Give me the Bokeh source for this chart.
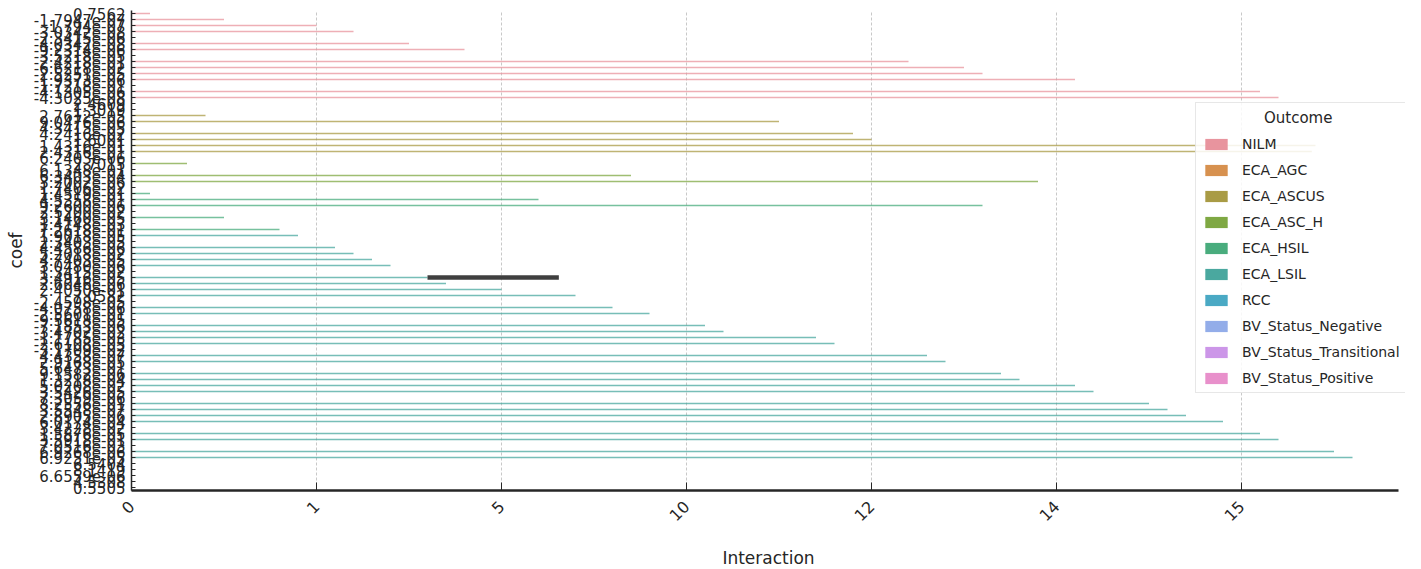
import math
from bokeh.plotting import figure
from bokeh.models import FactorRange, Range1d, FixedTicker, Legend, LegendItem, ColumnDataSource
from bokeh.embed import file_html
from bokeh.resources import INLINE

# ---------------- data ----------------
interaction_levels = ["0", "1", "5", "10", "12", "14", "15"]

outcomes = ["NILM", "ECA_AGC", "ECA_ASCUS", "ECA_ASC_H", "ECA_HSIL", "ECA_LSIL",
            "RCC", "BV_Status_Negative", "BV_Status_Transitional", "BV_Status_Positive"]
outcome_colors = ["#e8949e", "#d7914f", "#a99b45", "#7fa843", "#49ac7d", "#4aa89f",
                  "#4aa9c4", "#93ade9", "#cc96e8", "#e890cb"]

coef_labels = [
    "0.7562", "-1.7947e-07", "-1.794e-07", "-3.0342e-08", "-2.3415e-06",
    "-4.0342e-08", "-9.2314e-06", "-3.5218e-05", "-2.4218e-01", "-6.6218e-02",
    "-2.5251e-05", "-1.9373e-06", "-1.7218e-01", "-4.1305e-06", "-4.3025e-08",
    "2.4609", "1.3019", "2.7612e-05", "9.0476e-06", "4.3415e-05",
    "4.2416e-02", "1.6001", "1.4316e-01", "2.4316e-01", "6.2403e-06",
    "2.7015", "6.1348e-01", "6.3403e-04", "3.2002e-06", "1.7406e-02",
    "1.4519e-01", "4.5358e-01", "9.2600e-06", "2.5200e-02", "3.1460e-05",
    "1.4148e-03", "7.2618e-01", "1.9018e-05", "2.3403e-05", "4.4586e-06",
    "5.2018e-02", "4.7403e-05", "3.0480e-06", "1.3415e-02", "3.4916e-05",
    "2.6046e-06", "2.4050e-01", "7.0582", "-2.4598e-05", "-4.0758e-06",
    "-2.5601e-01", "-9.5618e-05", "-7.1853e-06", "-3.4702e-02", "-1.1785e-03",
    "-2.6108e-05", "-3.1709e-02", "4.4358e-07", "2.9168e-05", "5.6473e-01",
    "9.1582e-06", "1.3218e-04", "5.0208e-02", "3.5426e-05", "7.3059e-06",
    "8.2556e-01", "3.5548e-07", "2.8905e-06", "6.0174e-04", "3.4228e-02",
    "1.5876e-05", "3.5918e-01", "7.0516e-03", "6.9268e-06", "6.9251e-05",
    "6.5404", "8.1419", "6.6559e-06", "4.5308", "0.5505",
]

coef_value = [
    0.10, 0.50, 1.00, 1.20, None, 1.50, 1.80, None, 4.20, 4.50,
    4.60, 5.10, None, 6.10, 6.20, None, None, 0.40, 3.50, None,
    3.90, 4.00, 6.40, 6.38, None, 0.30, None, 2.70, 4.90, None,
    0.10, 2.20, 4.60, None, 0.50, None, 0.80, 0.90, None, 1.10,
    1.20, 1.30, 1.40, None, 1.60, 1.70, 2.00, 2.40, None, 2.60,
    2.80, None, 3.10, 3.20, 3.70, 3.80, None, 4.30, 4.40, None,
    4.70, 4.80, 5.10, 5.20, None, 5.50, 5.60, 5.70, 5.90, None,
    6.10, 6.20, None, 6.50, 6.60, None, None, None, None, None,
]

coef_outcome = (
    ["NILM"] * 15 + [None, None] +
    ["ECA_ASCUS"] * 7 + [None] +
    ["ECA_ASC_H"] * 4 + [None] +
    ["ECA_HSIL"] * 7 +
    ["ECA_LSIL"] * 41 + [None] * 5
)

err_coef = "3.4916e-05"
err_low = 1.60
err_high = 2.31

legend_title = "Outcome"

# ---------------- figure ----------------
FONT = "DejaVu Sans"
TXT = "#262626"
PX_PER_UNIT = 185.0
FRAME_W = 1274

p = figure(
    frame_width=FRAME_W, frame_height=480,
    min_border_left=131, min_border_right=8, min_border_top=10, min_border_bottom=78,
    x_range=Range1d(0, FRAME_W / PX_PER_UNIT),
    y_range=FactorRange(factors=list(reversed(coef_labels)), range_padding=0),
    x_axis_label="Interaction", y_axis_label="coef",
    output_backend="svg", toolbar_location=None,
)
p.outline_line_color = None
p.background_fill_color = "white"

for name, color in zip(outcomes, outcome_colors):
    ys = [c for c, v, o in zip(coef_labels, coef_value, coef_outcome) if o == name and v is not None]
    xs = [v for c, v, o in zip(coef_labels, coef_value, coef_outcome) if o == name and v is not None]
    if ys:
        src = ColumnDataSource(dict(coef=ys, value=xs))
        p.hbar(y="coef", left=0, right="value", height=0.22, source=src,
               fill_color=color, fill_alpha=0.75, line_color=None)

p.segment(x0=[err_low], y0=[err_coef], x1=[err_high], y1=[err_coef],
          line_width=4.5, line_color="#3f3f3f")

# legend proxies (zero-width bars, invisible in the plot)
items = []
for name, color in zip(outcomes, outcome_colors):
    r = p.hbar(y=[coef_labels[-1]], left=[0], right=[0], height=0.5,
               fill_color=color, line_color=None)
    items.append(LegendItem(label=name, renderers=[r]))

legend = Legend(items=items, location=(1064, 97),
                title="\u00a0" * 13 + legend_title,
                title_text_font_size="15px", title_text_font=FONT, title_text_font_style="normal",
                title_text_color=TXT, title_standoff=8,
                label_text_font=FONT, label_text_font_size="14px", label_text_color=TXT,
                glyph_width=28, glyph_height=14, label_height=17, label_standoff=12,
                spacing=9, padding=6, margin=0,
                border_line_color="#d0d0d0", border_line_width=1,
                background_fill_color="white", background_fill_alpha=0.85)
p.add_layout(legend)

# axes
p.xaxis.ticker = FixedTicker(ticks=list(range(len(interaction_levels))))
p.xaxis.major_label_overrides = {i: s for i, s in enumerate(interaction_levels)}
p.xaxis.major_label_orientation = math.pi / 4
p.xaxis.major_label_standoff = 13
p.xaxis.bounds = (0, 6.85)
p.xaxis.axis_line_width = 2.5
p.xaxis.axis_line_color = "#262626"
p.xaxis.major_tick_in = 8
p.xaxis.major_tick_out = 0
p.xaxis.minor_tick_line_color = None

p.yaxis.major_tick_in = 4
p.yaxis.major_tick_out = 0
p.yaxis.major_label_standoff = 6
p.yaxis.axis_line_width = 1.5
p.yaxis.axis_line_color = "#262626"

for ax in (p.xaxis, p.yaxis):
    ax.major_label_text_font = FONT
    ax.major_label_text_color = TXT
    ax.axis_label_text_font = FONT
    ax.axis_label_text_font_size = "17px"
    ax.axis_label_text_font_style = "normal"
    ax.axis_label_text_color = TXT
    ax.major_tick_line_color = "#262626"
p.yaxis.major_label_text_font_size = "15px"
p.xaxis.major_label_text_font_size = "16px"
p.xaxis.axis_label_standoff = 19
p.yaxis.axis_label_standoff = 5

p.ygrid.visible = False
p.xgrid.grid_line_color = "#c8c8c8"
p.xgrid.grid_line_dash = "3 2"
p.xgrid.grid_line_width = 1

open("out.html", "w").write(file_html(p, INLINE))
